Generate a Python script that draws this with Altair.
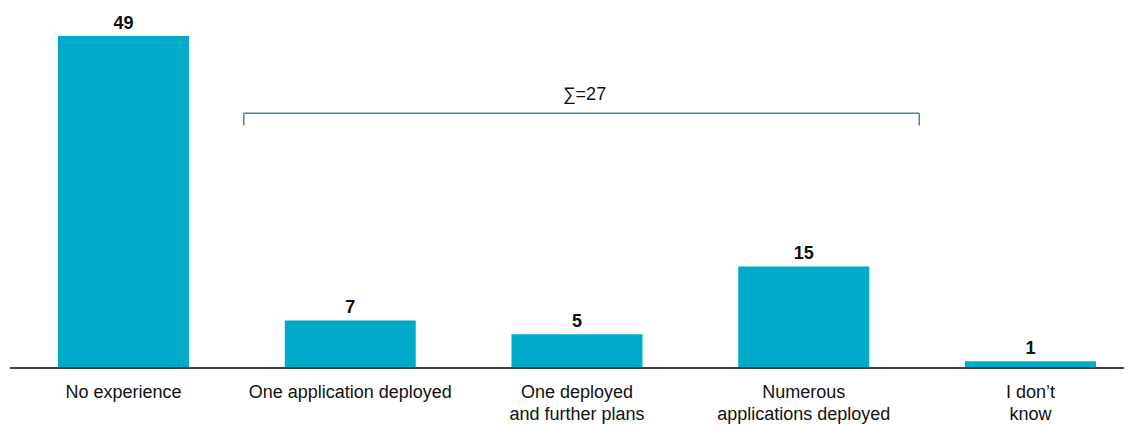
import altair as alt
import pandas as pd

categories = [
    "No experience",
    "One application deployed",
    "One deployed|and further plans",
    "Numerous|applications deployed",
    "I don’t|know",
]
values = [49, 7, 5, 15, 1]

bracket_start = categories[1]
bracket_end = categories[3]
bracket_top = 37.6
bracket_bottom = 35.8
sum_label_y = 39.6
sum_value = sum(values[1:4])

bar_color = "#00aac9"
font = "Liberation Sans"

df = pd.DataFrame({"cat": categories, "val": values, "zero": [0] * len(values)})
br = pd.DataFrame({
    "start": [bracket_start],
    "end": [bracket_end],
    "top": [bracket_top],
    "bottom": [bracket_bottom],
    "mid": [categories[2]],
    "ly": [sum_label_y],
    "label": [f"∑={sum_value}"],
})

xscale = alt.Scale(domain=categories, paddingInner=0.4223, paddingOuter=0.172, align=0.641)
yscale = alt.Scale(domain=[0, 53.14], nice=False, zero=True)

bars = alt.Chart(df).mark_bar(color=bar_color).encode(
    x=alt.X("cat:N", scale=xscale, title=None,
            axis=alt.Axis(labelExpr="split(datum.label, '|')", labelAngle=0,
                          labelFont=font, labelFontSize=18, labelColor="#111111",
                          labelLineHeight=22, labelPadding=15, ticks=False,
                          domain=False, grid=False, labelLimit=400)),
    y=alt.Y("val:Q", scale=yscale, axis=None),
)

texts = alt.Chart(df).mark_text(font=font, fontSize=18, fontWeight="bold", color="#111111",
                                 baseline="alphabetic", dy=-7.5).encode(
    x=alt.X("cat:N"),
    y=alt.Y("val:Q"),
    text="val:Q",
)

baseline = alt.Chart(df).mark_rule(color="#404040", strokeWidth=1.5).encode(
    x=alt.value(2), x2=alt.value(1116), y=alt.Y("zero:Q")
)

br_color = "#4682b4"
br_h = alt.Chart(br).mark_rule(color=br_color, strokeWidth=1.5, xOffset=-41, x2Offset=50).encode(
    x=alt.X("start:N", bandPosition=0),
    x2=alt.X2("end:N", bandPosition=1),
    y=alt.Y("top:Q"),
)
br_l = alt.Chart(br).mark_rule(color=br_color, strokeWidth=1.5, xOffset=-41).encode(
    x=alt.X("start:N", bandPosition=0),
    y=alt.Y("top:Q"),
    y2="bottom:Q",
)
br_r = alt.Chart(br).mark_rule(color=br_color, strokeWidth=1.5, xOffset=50).encode(
    x=alt.X("end:N", bandPosition=1),
    y=alt.Y("top:Q"),
    y2="bottom:Q",
)
br_t = alt.Chart(br).mark_text(font=font, fontSize=18, color="#111111", baseline="alphabetic").encode(
    x=alt.X("mid:N", bandPosition=0.557),
    y=alt.Y("ly:Q"),
    text="label:N",
)

chart = alt.layer(bars, texts, baseline, br_h, br_l, br_r, br_t).properties(
    width=1116, height=360,
    autosize=alt.AutoSizeParams(type="none"),
    padding={"left": 0, "top": 0, "right": 0, "bottom": 57},
).configure_view(stroke=None)

chart.save("out.html", embed_options={"renderer": "svg", "actions": False})
